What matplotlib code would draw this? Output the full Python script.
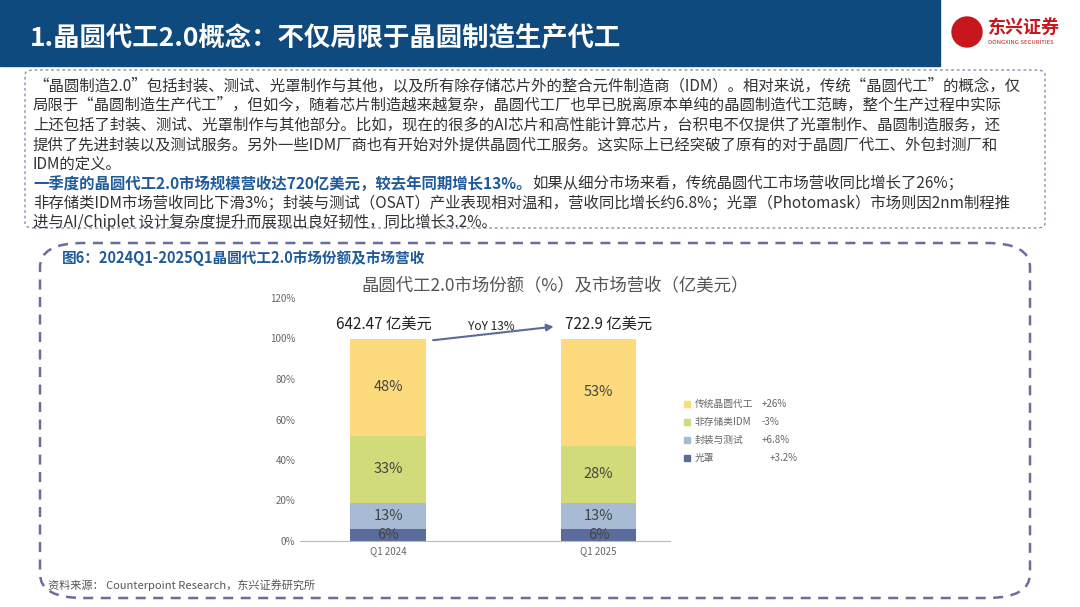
import matplotlib
matplotlib.use("Agg")
import matplotlib.pyplot as plt
from matplotlib.patches import FancyBboxPatch, Rectangle, Ellipse
plt.rcParams['font.family'] = ['Noto Sans CJK SC', 'DejaVu Sans']

categories = ["Q1 2024", "Q1 2025"]
series = ["传统晶圆代工", "非存储类IDM", "封装与测试", "光罩"]
growth = ["+26%", "-3%", "+6.8%", "+3.2%"]
values = {"光罩": [6, 6], "封装与测试": [13, 13], "非存储类IDM": [33, 28], "传统晶圆代工": [48, 53]}
totals = ["642.47 亿美元", "722.9 亿美元"]
colors = {"传统晶圆代工": "#FDDA7C", "非存储类IDM": "#D2DB79", "封装与测试": "#A7BCD4", "光罩": "#5A6C9C"}

W, H = 1080, 607
fig = plt.figure(figsize=(10.8, 6.07), dpi=100)
def fx(x): return x / W
def fy(y): return 1 - y / H

# header
fig.patches.append(Rectangle((0, fy(62)), fx(940), 62 / H, transform=fig.transFigure, color="#0E4A7E"))
fig.patches.append(Rectangle((0, fy(66)), fx(940), 3 / H, transform=fig.transFigure, color="#0E4A7E"))
fig.text(fx(30), fy(38), "1.晶圆代工2.0概念：不仅局限于晶圆制造生产代工", color="white", fontsize=19, fontweight="bold", va="center")
fig.patches.append(Ellipse((fx(967), fy(32)), 30 / W, 30 / H, transform=fig.transFigure, color="#C8161D"))
fig.text(fx(988), fy(27), "东兴证券", color="#C8161D", fontsize=13, fontweight="bold", va="center")
fig.text(fx(988), fy(43), "DONGXING SECURITIES", color="#C8161D", fontsize=4.3, va="center")

# text box
fig.patches.append(FancyBboxPatch((fx(25), fy(228)), fx(1020), (228 - 70) / H, boxstyle="round,pad=0,rounding_size=0.008",
                                  transform=fig.transFigure, fill=False, ec="#8A8FB0", ls=(0, (2, 2)), lw=1))
fs = 11.1
lines = [
    "“晶圆制造2.0”包括封装、测试、光罩制作与其他，以及所有除存储芯片外的整合元件制造商（IDM）。相对来说，传统“晶圆代工”的概念，仅",
    "局限于“晶圆制造生产代工”，但如今，随着芯片制造越来越复杂，晶圆代工厂也早已脱离原本单纯的晶圆制造代工范畴，整个生产过程中实际",
    "上还包括了封装、测试、光罩制作与其他部分。比如，现在的很多的AI芯片和高性能计算芯片，台积电不仅提供了光罩制作、晶圆制造服务，还",
    "提供了先进封装以及测试服务。另外一些IDM厂商也有开始对外提供晶圆代工服务。这实际上已经突破了原有的对于晶圆厂代工、外包封测厂和",
    "IDM的定义。",
]
for i, t in enumerate(lines):
    fig.text(fx(33), fy(86 + i * 19.5), t, fontsize=fs, color="#333333", va="center")
y6 = 86 + 5 * 19.5
fig.text(fx(33), fy(y6), "一季度的晶圆代工2.0市场规模营收达720亿美元，较去年同期增长13%。", fontsize=fs, color="#1F5A9A", fontweight="bold", va="center")
fig.text(fx(532), fy(y6), "如果从细分市场来看，传统晶圆代工市场营收同比增长了26%；", fontsize=fs, color="#333333", va="center")
fig.text(fx(33), fy(y6 + 19.5), "非存储类IDM市场营收同比下滑3%；封装与测试（OSAT）产业表现相对温和，营收同比增长约6.8%；光罩（Photomask）市场则因2nm制程推", fontsize=fs, color="#333333", va="center")
fig.text(fx(33), fy(y6 + 39), "进与AI/Chiplet 设计复杂度提升而展现出良好韧性，同比增长3.2%。", fontsize=fs, color="#333333", va="center")

# chart box
fig.patches.append(FancyBboxPatch((fx(40), fy(598)), fx(990), (598 - 243) / H, boxstyle="round,pad=0,rounding_size=0.04",
                                  transform=fig.transFigure, fill=False, ec="#6A6F9A", ls=(0, (4, 3)), lw=1.8))
fig.text(fx(62), fy(258), "图6：2024Q1-2025Q1晶圆代工2.0市场份额及市场营收", fontsize=10.5, color="#1F5A9A", fontweight="bold", va="center")
fig.text(fx(555), fy(285), "晶圆代工2.0市场份额（%）及市场营收（亿美元）", fontsize=12.5, color="#555555", ha="center", va="center")
fig.text(fx(48), fy(585), "资料来源： Counterpoint Research，东兴证券研究所", fontsize=8, color="#555555", style="italic", va="center")

# axes
ax = fig.add_axes([fx(300), fy(541), fx(370), (541 - 298) / H])
ax.set_xlim(-0.42, 1.34)
ax.set_ylim(0, 120)
x = list(range(len(categories)))
bottom = [0, 0]
order = ["光罩", "封装与测试", "非存储类IDM", "传统晶圆代工"]
for s in order:
    v = values[s]
    ax.bar(x, v, bottom=bottom, width=0.36, color=colors[s], label=s)
    for i in x:
        ax.text(i, bottom[i] + v[i] / 2, f"{v[i]}%", ha="center", va="center", fontsize=10.5, color="#444444")
    bottom = [b + a for b, a in zip(bottom, v)]
ax.set_yticks(range(0, 121, 20))
ax.set_yticklabels([f"{t}%" for t in range(0, 121, 20)], fontsize=7, color="#666666")
ax.set_xticks(x)
ax.set_xticklabels(categories, fontsize=7, color="#666666")
for sp in ["top", "right", "left"]:
    ax.spines[sp].set_visible(False)
ax.spines["bottom"].set_color("#BBBBBB")
ax.tick_params(length=0)
for i in x:
    ax.text(i + (-0.02 if i == 0 else 0.05), 103, totals[i], ha="center", va="bottom", fontsize=11, color="#222222")
ax.annotate("", xy=(0.8, 106), xytext=(0.2, 99), arrowprops=dict(arrowstyle="-|>", color="#5A6C9C", lw=1.5))
ax.text(0.49, 106, "YoY 13%", ha="center", va="center", fontsize=8.5, color="#222222")

# legend
for k, s in enumerate(series):
    yy = 404 + k * 18
    fig.patches.append(Rectangle((fx(684), fy(yy + 3)), fx(6), 6 / H, transform=fig.transFigure, color=colors[s]))
    fig.text(fx(695), fy(yy), s, fontsize=7, color="#666666", va="center")
    fig.text(fx(762 if k < 3 else 770), fy(yy), growth[k], fontsize=7, color="#666666", va="center")

fig.savefig("out.png", dpi=100)
